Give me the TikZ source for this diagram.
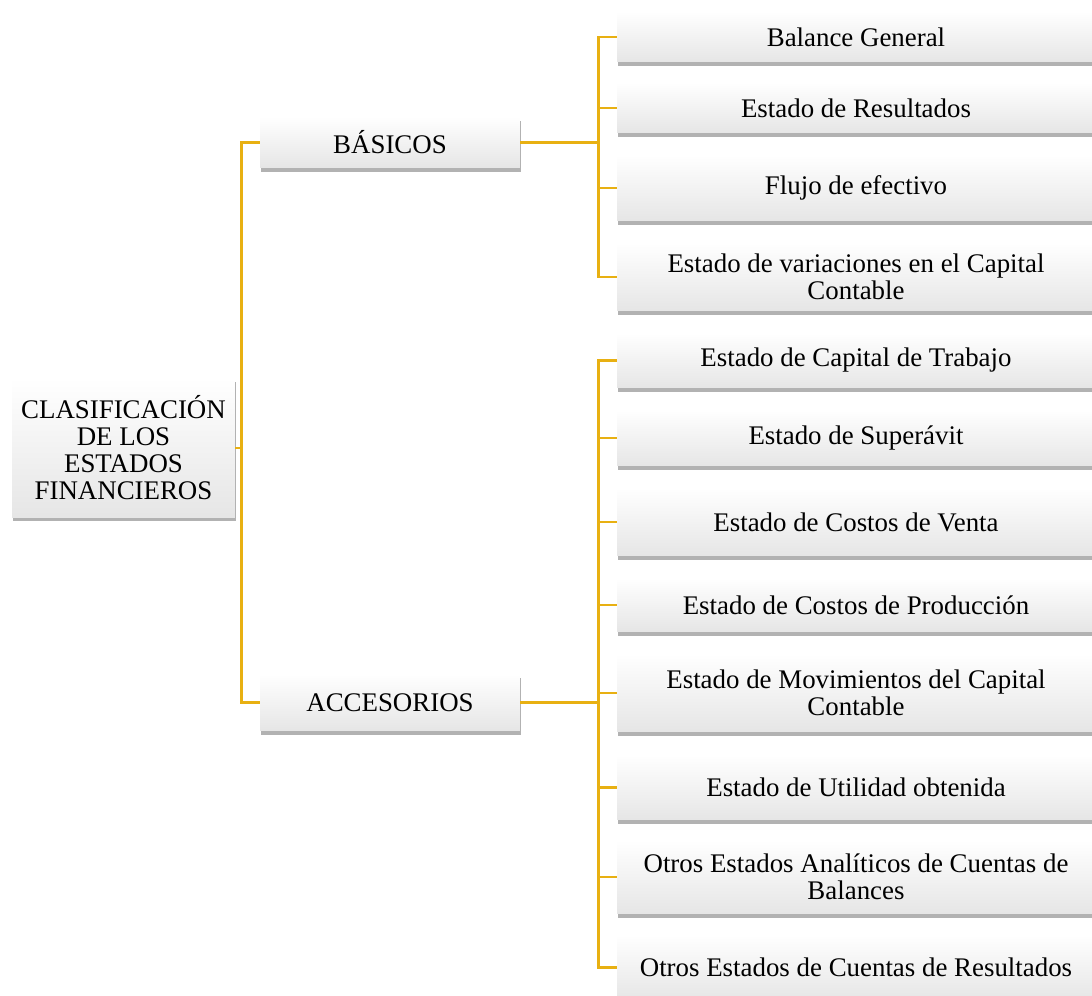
\documentclass[tikz,border=0pt]{standalone}
\usepackage{fontspec}
\setmainfont{Liberation Serif}
\usetikzlibrary{shadows}
\definecolor{oro}{RGB}{232,176,18}

\begin{document}
\begin{tikzpicture}[x=0.02cm, y=-0.02cm,
	box/.style={rectangle, draw=none, top color=white, bottom color=gray!20, align=center, inner sep=2pt,
		font=\fontsize{15.3}{15.4}\selectfont, drop shadow={shadow xshift=0.8pt, shadow yshift=-2pt, opacity=0.3, fill=black}},
	item/.style={box, minimum width=9.56cm},
	link/.style={draw=oro, line width=1.4pt}]
	\useasboundingbox (0,0) rectangle (1092,996);
	\node[box, minimum width=4.46cm, minimum height=2.8cm] (root) at (123.5,448) {CLASIFICACIÓN\\DE LOS\\ESTADOS\\FINANCIEROS};
	\node[box, minimum width=5.2cm, minimum height=1.02cm] (bas) at (390,142.5) {BÁSICOS};
	\node[box, minimum width=5.2cm, minimum height=1.14cm] (acc) at (390,702.5) {ACCESORIOS};
	
	\node[item, minimum height=1.0cm] (b1) at (856,37) {Balance General};
	\node[item, minimum height=1.0cm] (b2) at (856,108) {Estado de Resultados};
	\node[item, minimum height=1.32cm] (b3) at (856,188) {Flujo de efectivo};
	\node[item, minimum height=1.36cm] (b4) at (856,277) {Estado de variaciones en el Capital\\Contable};
	
	\node[item, minimum height=1.1cm] (a1) at (856,360.5) {Estado de Capital de Trabajo};
	\node[item, minimum height=1.12cm] (a2) at (856,438) {Estado de Superávit};
	\node[item, minimum height=1.36cm] (a3) at (856,522) {Estado de Costos de Venta};
	\node[item, minimum height=1.08cm] (a4) at (856,605) {Estado de Costos de Producción};
	\node[item, minimum height=1.56cm] (a5) at (856,693) {Estado de Movimientos del Capital\\Contable};
	\node[item, minimum height=1.3cm] (a6) at (856,787.5) {Estado de Utilidad obtenida};
	\node[item, minimum height=1.48cm] (a7) at (856,877) {Otros Estados Analíticos de Cuentas de\\Balances};
	\node[item, minimum height=1.3cm] (a8) at (856,967.5) {Otros Estados de Cuentas de Resultados};
	
	\draw[link] (root.east) -- ++(6,0) |- (bas.west);
	\draw[link] (root.east) -- ++(6,0) |- (acc.west);
	\foreach \n in {b1,b2,b3,b4}
		\draw[link] (\n.west) -- ++(-18,0) |- (bas.east);
	\foreach \n in {a1,a2,a3,a4,a5,a6,a7,a8}
		\draw[link] (\n.west) -- ++(-18,0) |- (acc.east);
\end{tikzpicture}
\end{document}
